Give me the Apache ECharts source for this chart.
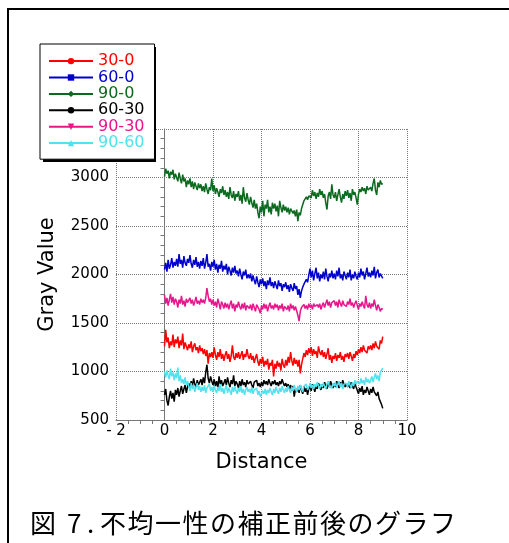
<!DOCTYPE html>
<html>
<head>
<meta charset="utf-8">
<script src="https://cdn.jsdelivr.net/npm/echarts@6/dist/echarts.min.js"></script>
<style>
  html, body { margin: 0; padding: 0; background: #fff; }
  #chart { width: 509px; height: 543px; }
</style>
</head>
<body>
<div id="chart"></div>
<script>
// Sampling positions along the profile (0 … 9, every 0.05)
const step = 0.05;
const distance = Array.from({ length: 181 }, (_, i) => +(i * step).toFixed(2));

// Gray value profiles
const s30_0 = [
  1260,1430,1300,1350,1240,1310,1270,1380,1250,1330,
  1290,1360,1240,1320,1270,1390,1230,1300,1260,1220,
  1280,1240,1310,1200,1260,1290,1220,1250,1190,1270,
  1210,1240,1180,1230,1160,1220,1080,1190,1150,1200,
  1140,1250,1170,1120,1200,1150,1230,1130,1180,1110,
  1170,1210,1130,1180,1100,1160,1270,1150,1120,1190,
  1140,1200,1130,1170,1210,1120,1180,1150,1230,1160,
  1130,1190,1120,1160,1090,1140,1180,1100,1060,1130,
  1080,1150,1050,1110,1070,1130,1020,1090,1060,1120,
  950,1080,1030,1110,1050,1090,1010,1130,1070,1040,
  1120,1060,1150,1090,1200,1110,1060,1140,1080,1120,
  1050,1120,980,1070,1130,1190,1150,1220,1170,1240,
  1190,1250,1160,1230,1180,1210,1140,1260,1200,1170,
  1220,1150,1200,1130,1180,1240,1120,1170,1090,1160,
  1130,1190,1110,1170,1140,1200,1120,1160,1100,1180,
  1150,1190,1130,1200,1160,1110,1180,1140,1210,1170,
  1230,1190,1250,1200,1270,1220,1240,1190,1260,1230,
  1270,1220,1290,1240,1310,1260,1280,1230,1320,1290,
  1360
];
const s60_0 = [
  2050,2120,2030,2150,2060,2100,2170,2070,2130,2090,
  2160,2080,2210,2110,2150,2070,2190,2120,2090,2160,
  2120,2200,2110,2070,2150,2100,2180,2080,2130,2060,
  2140,2090,2170,2060,2120,2210,2080,2110,2040,2130,
  2080,2150,2050,2110,2020,2100,2060,2140,2030,2090,
  2050,2110,2000,2080,2040,1990,2070,2020,2090,2010,
  2040,1980,2060,2000,1950,2030,1990,2050,1960,2000,
  1960,2010,1930,1990,1940,1900,1980,1920,1870,1950,
  1900,1960,1880,1930,1850,1940,1890,1970,1880,1920,
  1860,1930,1890,1850,1940,1880,1910,1830,1900,1870,
  1920,1850,1890,1820,1900,1860,1830,1910,1850,1880,
  1790,1850,1760,1830,1870,1900,1880,1950,1920,1990,
  2060,1970,2040,1940,2010,2070,1960,2020,1930,2000,
  1960,2030,1950,2060,1980,1930,2010,1970,2040,1960,
  2010,1950,2040,1980,2070,1960,2000,1940,2030,1990,
  1950,2020,1970,2050,1940,2000,1960,2030,1980,1950,
  2020,1970,2060,1990,2030,1950,2010,2070,1980,2020,
  1970,2040,1990,2080,1960,2020,2050,1970,2010,1990,
  1960
];
const s90_0 = [
  3010,3090,3040,3070,2990,3060,3030,3080,2980,3040,
  3020,2960,3050,2990,2940,3030,2960,2990,2900,2970,
  2930,2990,2900,2960,2880,2950,2910,2870,2940,2890,
  2930,2860,2910,2850,2940,2880,2830,2900,2870,2990,
  2860,2920,2830,2890,2850,2800,2880,2840,2910,2820,
  2870,2800,2850,2780,2900,2820,2790,2860,2760,2830,
  2800,2860,2760,2820,2730,2900,2790,2750,2840,2770,
  2720,2800,2740,2690,2770,2680,2730,2640,2580,2700,
  2640,2760,2600,2720,2680,2770,2640,2700,2620,2740,
  2680,2730,2650,2710,2600,2760,2690,2640,2720,2660,
  2700,2640,2690,2620,2680,2700,2630,2660,2600,2670,
  2550,2640,2610,2680,2720,2760,2740,2800,2770,2810,
  2830,2790,2870,2810,2850,2780,2840,2800,2880,2820,
  2860,2790,2830,2740,2670,2810,2850,2780,2930,2820,
  2790,2850,2760,2820,2880,2800,2740,2830,2780,2860,
  2810,2870,2790,2840,2760,2880,2820,2850,2790,2720,
  2830,2880,2850,2900,2860,2890,2830,2910,2870,2850,
  2900,2860,2940,2990,2870,2820,2950,2900,2970,2930,
  2940
];
const s60_30 = [
  760,820,700,650,740,800,720,780,690,810,
  760,830,740,800,850,770,820,860,780,840,
  880,820,900,850,930,870,840,910,860,890,
  920,860,940,880,990,1070,930,880,950,900,
  860,920,850,900,830,950,870,910,850,880,
  920,860,940,880,840,910,870,960,850,900,
  870,830,900,850,920,860,890,840,910,870,
  850,900,860,830,890,870,910,850,880,840,
  890,850,910,870,900,860,920,880,850,900,
  870,910,860,890,850,900,870,920,880,850,
  880,840,870,820,860,800,850,740,820,790,
  840,780,860,810,770,850,790,830,760,820,
  850,800,870,830,790,860,820,880,840,810,
  870,830,890,850,820,880,840,900,860,830,
  880,840,900,860,830,890,850,910,870,840,
  880,840,870,830,890,850,820,880,840,860,
  770,830,790,850,760,810,780,840,800,760,
  820,780,840,790,810,750,790,720,700,660,
  620
];
const s90_30 = [
  1790,1700,1760,1680,1740,1800,1710,1770,1690,1750,
  1720,1660,1740,1700,1780,1690,1730,1670,1750,1710,
  1690,1760,1700,1740,1680,1720,1770,1700,1730,1690,
  1750,1710,1740,1700,1760,1860,1780,1720,1750,1690,
  1740,1680,1720,1660,1750,1700,1640,1720,1690,1650,
  1710,1660,1700,1640,1690,1730,1650,1700,1620,1690,
  1660,1720,1670,1640,1700,1650,1710,1630,1680,1700,
  1650,1690,1630,1700,1660,1620,1690,1670,1640,1600,
  1680,1640,1700,1650,1690,1620,1670,1710,1650,1680,
  1640,1700,1660,1690,1630,1680,1650,1700,1620,1670,
  1690,1640,1680,1620,1700,1650,1680,1630,1670,1650,
  1580,1520,1620,1660,1640,1690,1650,1680,1640,1700,
  1660,1690,1640,1700,1670,1650,1690,1660,1700,1640,
  1680,1710,1660,1700,1740,1680,1720,1660,1710,1690,
  1730,1680,1720,1660,1740,1700,1670,1730,1690,1710,
  1670,1720,1690,1750,1680,1710,1660,1700,1730,1680,
  1640,1700,1670,1720,1680,1650,1780,1690,1660,1710,
  1650,1700,1670,1740,1680,1630,1690,1660,1620,1650,
  1640
];
const s90_60 = [
  1000,940,1010,960,920,1030,950,990,910,980,
  930,1040,900,960,880,920,870,940,860,900,
  850,800,880,820,860,790,840,880,810,850,
  790,840,800,860,780,830,810,870,800,840,
  790,850,810,780,840,800,870,790,830,770,
  820,860,780,830,800,760,840,790,850,800,
  770,830,790,850,780,820,760,810,840,790,
  820,780,840,770,810,790,830,760,800,740,
  730,800,770,820,760,810,780,830,790,760,
  820,780,840,800,770,830,790,850,810,780,
  830,790,850,810,780,840,800,860,820,790,
  850,810,860,820,790,850,830,870,810,840,
  880,830,860,820,870,840,890,850,820,870,
  840,880,850,820,870,900,840,860,830,880,
  850,890,830,870,900,840,880,820,870,850,
  880,840,900,860,830,890,850,910,870,900,
  920,870,930,880,910,860,940,890,920,880,
  910,950,890,940,980,920,960,900,990,1010,
  1035
];

const seriesNames = ['30-0', '60-0', '90-0', '60-30', '90-30', '90-60'];
const seriesValues = [s30_0, s60_0, s90_0, s60_30, s90_30, s90_60];
const seriesColors = ['#ff0000', '#0000cc', '#0b6a1e', '#000000', '#e8168c', '#4fe3ef'];
const seriesSymbols = ['circle', 'rect', 'diamond', 'circle', 'triangle', 'triangle'];
const seriesSymbolRotate = [0, 0, 0, 0, 180, 0];

const xTicks = { min: -2, max: 10, interval: 2 };
const yTicks = { min: 500, max: 3500, interval: 500 };

const caption = '不均一性の補正前後のグラフ';

const chart = echarts.init(document.getElementById('chart'));

const series = seriesNames.map((name, k) => ({
  name,
  type: 'line',
  data: distance.map((d, i) => [d, seriesValues[k][i]]),
  symbol: seriesSymbols[k],
  symbolRotate: seriesSymbolRotate[k],
  showSymbol: false,
  silent: true,
  animation: false,
  lineStyle: { color: seriesColors[k], width: 1.5 },
  itemStyle: { color: seriesColors[k] },
  z: 3
}));

const gridLine = { show: true, lineStyle: { color: '#777', type: [1, 1], width: 1 } };

const captionFont = '26px "Noto Sans CJK JP"';
const graphics = [
  {
    // page frame
    type: 'rect', z: 0, silent: true,
    shape: { x: 8, y: 9, width: 620, height: 620 },
    style: { fill: 'none', stroke: '#000', lineWidth: 2 }
  },
  {
    // solid drop shadow behind the legend box
    type: 'rect', z: 9, silent: true,
    shape: { x: 43, y: 47, width: 113, height: 115 },
    style: { fill: '#000' }
  },
  { type: 'text', left: 30, top: 510, silent: true, style: { text: '図', font: captionFont, fill: '#000' } },
  { type: 'text', left: 67, top: 510, silent: true, style: { text: '7', font: captionFont, fill: '#000' } },
  { type: 'text', left: 87, top: 510, silent: true, style: { text: '.', font: captionFont, fill: '#000' } }
];
Array.from(caption).forEach((ch, i) => {
  graphics.push({
    type: 'text', left: 100 + i * 27.5, top: 510, silent: true,
    style: { text: ch, font: captionFont, fill: '#000' }
  });
});

chart.setOption({
  animation: false,
  backgroundColor: '#fff',
  grid: { left: 116, top: 129, width: 291, height: 291, containLabel: false },
  legend: {
    orient: 'vertical',
    left: 40,
    top: 44,
    padding: [9, 10, 8, 8],
    itemWidth: 44,
    itemHeight: 8,
    itemGap: 0.2,
    backgroundColor: '#fff',
    borderColor: '#000',
    borderWidth: 1,
    selectedMode: false,
    z: 10,
    textStyle: { fontFamily: 'DejaVu Sans', fontSize: 16, lineHeight: 16.2 },
    data: seriesNames.map((name, k) => ({ name, textStyle: { color: seriesColors[k] } }))
  },
  xAxis: {
    type: 'value',
    min: xTicks.min, max: xTicks.max, interval: xTicks.interval,
    name: 'Distance',
    nameLocation: 'middle',
    nameGap: 32,
    nameTextStyle: { fontFamily: 'DejaVu Sans', fontSize: 21, color: '#000' },
    axisLine: { show: true, onZero: false, lineStyle: { color: '#777', width: 1 } },
    axisTick: { show: false },
    minorTick: { show: true, splitNumber: 4, length: 4, lineStyle: { color: '#777' } },
    axisLabel: {
      margin: 4,
      fontFamily: 'DejaVu Sans', fontSize: 15, color: '#000',
      formatter: v => (v < 0 ? '- ' + Math.abs(v) : String(v))
    },
    splitLine: gridLine
  },
  yAxis: {
    type: 'value',
    min: yTicks.min, max: yTicks.max, interval: yTicks.interval,
    name: 'Gray Value',
    nameLocation: 'middle',
    nameGap: 58,
    nameRotate: 90,
    nameTextStyle: { fontFamily: 'DejaVu Sans', fontSize: 21, color: '#000' },
    axisLine: { show: true, lineStyle: { color: '#777', width: 1 } },
    axisTick: { show: false },
    minorTick: { show: true, splitNumber: 5, length: 4, lineStyle: { color: '#777' } },
    axisLabel: {
      margin: 7, showMaxLabel: false,
      fontFamily: 'DejaVu Sans', fontSize: 15, color: '#000',
      formatter: v => String(v)
    },
    splitLine: gridLine
  },
  graphic: graphics,
  series
});
</script>
</body>
</html>
